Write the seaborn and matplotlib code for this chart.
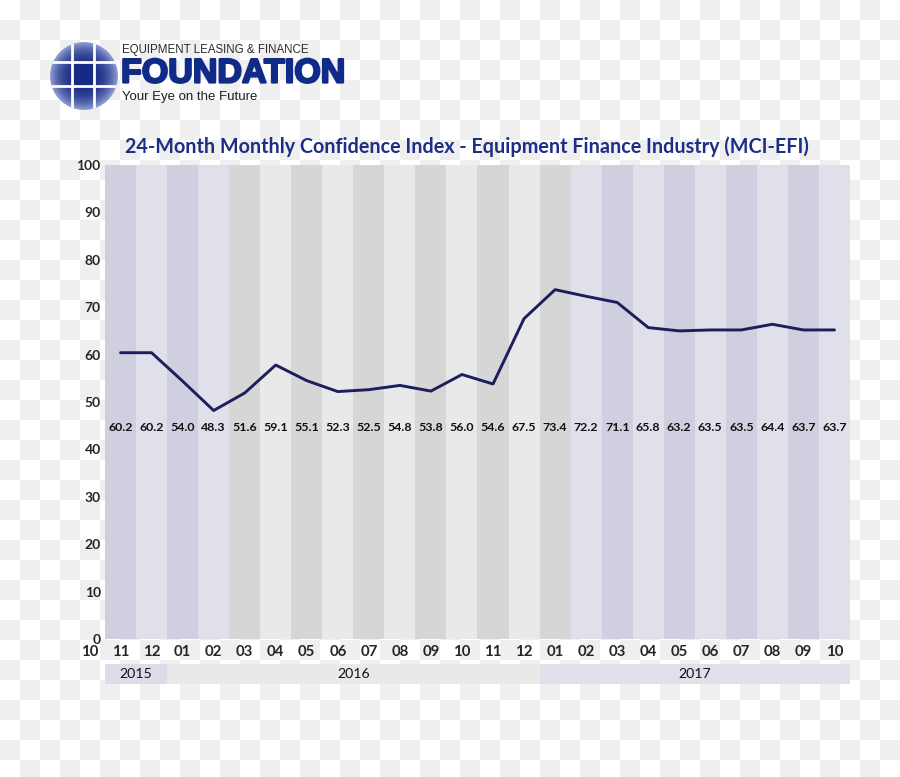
import numpy as np
import pandas as pd
import matplotlib
matplotlib.use("Agg")
import matplotlib.pyplot as plt
import matplotlib.patheffects as pe
import seaborn as sns
from matplotlib.patches import Circle, Rectangle

sns.set_style("white")
plt.rcParams['font.family'] = ['Lato', 'DejaVu Sans']

# --- dados ---
months = ['11', '12', '01', '02', '03', '04', '05', '06', '07', '08', '09', '10',
          '11', '12', '01', '02', '03', '04', '05', '06', '07', '08', '09', '10']
line_values = [60.4, 60.4, 54.4, 48.2, 51.9, 57.8, 54.5, 52.2, 52.6, 53.5, 52.3, 55.8,
               53.8, 67.6, 73.7, 72.3, 71.0, 65.7, 65.0, 65.2, 65.2, 66.4, 65.2, 65.2]
# rótulos impressos no gráfico
label_values = ['60.2', '60.2', '54.0', '48.3', '51.6', '59.1', '55.1', '52.3', '52.5',
                '54.8', '53.8', '56.0', '54.6', '67.5', '73.4', '72.2', '71.1', '65.8',
                '63.2', '63.5', '63.5', '64.4', '63.7', '63.7']
band_group = ['p'] * 4 + ['g'] * 11 + ['p'] * 9
years = ['2015', '2016', '2017']
year_months = [2, 12, 10]

df = pd.DataFrame({'pos': range(len(months)), 'mci': line_values})

W, H = 900, 777
fig = plt.figure(figsize=(9, 7.77), dpi=100)

# --- fundo quadriculado ---
bg = fig.add_axes([0, 0, 1, 1], zorder=0)
tile = 20
ny, nx = int(np.ceil(H / tile)), int(np.ceil(W / tile))
ii, jj = np.indices((ny, nx))
checker = np.where((ii + jj) % 2 == 1, 0.935, 1.0)
bg.imshow(checker, cmap='gray', vmin=0, vmax=1, extent=(0, nx * tile, ny * tile, 0),
          interpolation='nearest', aspect='auto')
bg.set_xlim(0, W)
bg.set_ylim(H, 0)
bg.axis('off')

# --- logotipo ---
cx, cy, r = 84, 76, 34
circ = Circle((cx, cy), r, transform=bg.transData)
yy, xx = np.mgrid[-1:1:200j, -1:1:200j]
rr = np.clip(np.sqrt(xx ** 2 + yy ** 2), 0, 1)
t = rr ** 3
dark = np.array([0.10, 0.17, 0.52])
light = np.array([0.58, 0.63, 0.83])
grad = dark[None, None, :] * (1 - t[..., None]) + light[None, None, :] * t[..., None]
im = bg.imshow(grad, extent=(cx - r, cx + r, cy + r, cy - r), zorder=2)
im.set_clip_path(circ)
sq = Rectangle((72, 62), 21, 23, color='#152a86', zorder=3)
bg.add_patch(sq)
sq.set_clip_path(circ)
for xv in [71.5, 93.5]:
    ln, = bg.plot([xv, xv], [cy - r, cy + r], color='white', lw=2, zorder=4)
    ln.set_clip_path(circ)
for yv in [61.5, 85.5]:
    ln, = bg.plot([cx - r, cx + r], [yv, yv], color='white', lw=2, zorder=4)
    ln.set_clip_path(circ)

bg.text(122, 50, 'EQUIPMENT LEASING & FINANCE', family='Liberation Sans', fontsize=8.3,
        color='#2a2a2a', va='center', ha='left', zorder=5)
bg.text(121, 74, 'FOUNDATION', family='Liberation Sans', fontweight='bold', fontsize=24.5,
        color='#102a88', va='center', ha='left', zorder=5,
        path_effects=[pe.withStroke(linewidth=1.6, foreground='#102a88')])
bg.text(122, 97, 'Your Eye on the Future', family='Liberation Sans', fontsize=9.5,
        color='#1e1e1e', va='center', ha='left', zorder=5)

# --- título ---
fig.text(467 / W, 1 - 147 / H,
         '24-Month Monthly Confidence Index - Equipment Finance Industry (MCI-EFI)',
         ha='center', va='center', fontsize=14.2, fontweight='bold', color='#1c2e86')

# --- gráfico principal ---
left, right, top, bottom = 105, 850, 165, 639
ax = fig.add_axes([left / W, 1 - bottom / H, (right - left) / W, (bottom - top) / H], zorder=2)
ax.patch.set_alpha(0)

band_colors = []
for i, g in enumerate(band_group):
    if g == 'p':
        band_colors.append('#cfcfdf' if i % 2 == 0 else '#e0e0eb')
    else:
        band_colors.append('#d6d6d6' if i % 2 == 0 else '#e9e9e9')
ax.bar(df['pos'], 100, width=1, color=band_colors, linewidth=0, zorder=1)

sns.lineplot(data=df, x='pos', y='mci', color='#1c1f5c', linewidth=2.1, ax=ax, zorder=3)

for i, lab in enumerate(label_values):
    ax.text(i, 44.6, lab, ha='center', va='center', fontsize=8.9, fontweight='bold',
            color='#111111', zorder=4)

ax.set_xlim(-0.5, len(months) - 0.5)
ax.set_ylim(0, 100)
ax.set_yticks(range(0, 101, 10))
ax.set_yticklabels([str(v) for v in range(0, 101, 10)], fontsize=10, fontweight='bold')
ax.tick_params(axis='y', length=0, pad=3)
ax.set_xticks([])
ax.set_xlabel('')
ax.set_ylabel('')
for s in ax.spines.values():
    s.set_visible(False)

xt = ax.get_xaxis_transform()
ym = (bottom - 652) / (bottom - top)
ax.text(-0.98, ym, '10', transform=xt, ha='center', va='center', fontsize=10.8,
        fontweight='bold', clip_on=False)
for i, m in enumerate(months):
    ax.text(i, ym, m, transform=xt, ha='center', va='center', fontsize=10.8,
            fontweight='bold', clip_on=False)

# --- faixa dos anos ---
ay = fig.add_axes([left / W, 1 - 684 / H, (right - left) / W, 20 / H], zorder=2)
starts = np.cumsum([0] + year_months[:-1])
year_colors = ['#dcdce8', '#e9e9e9', '#e0e0eb']
ay.bar(starts - 0.5, 1, width=year_months, align='edge', color=year_colors, linewidth=0)
for s, n, y in zip(starts, year_months, years):
    ay.text(s - 0.5 + n / 2, 0.5, y, ha='center', va='center', fontsize=10.2, color='#111111')
ay.set_xlim(-0.5, len(months) - 0.5)
ay.set_ylim(0, 1)
ay.axis('off')

fig.savefig('out.png', dpi=100)
